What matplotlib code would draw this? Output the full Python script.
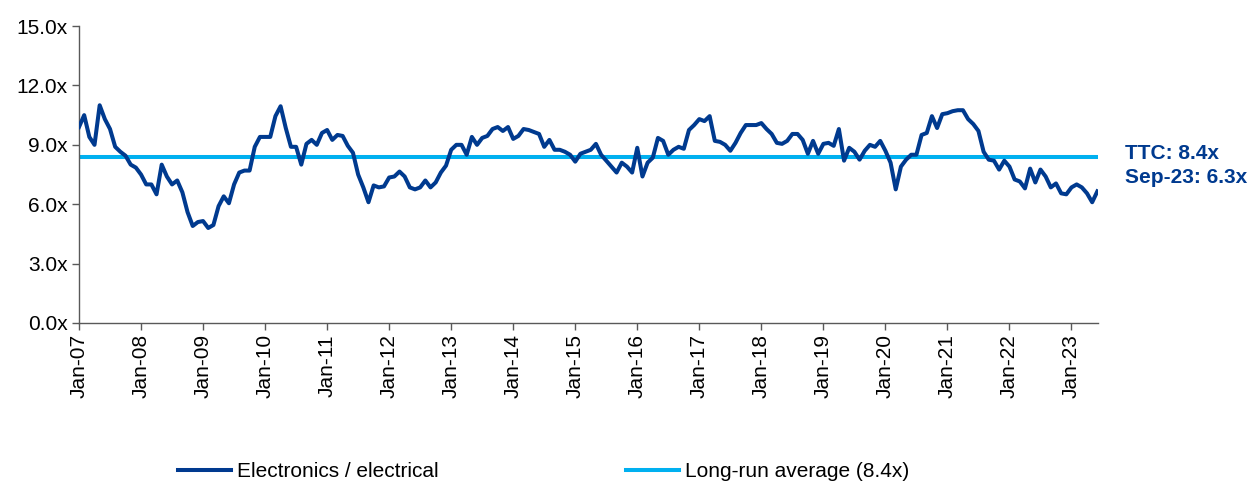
import matplotlib
matplotlib.use("Agg")
import matplotlib.pyplot as plt
import numpy as np
from matplotlib.ticker import FuncFormatter

plt.rcParams['font.family'] = ['Liberation Sans', 'DejaVu Sans']

# monthly EV/EBITDA-style multiple, Jan-07 .. Jun-23
electronics = [
    9.9, 10.5, 9.4, 9.0, 11.0, 10.3, 9.8, 8.9, 8.65, 8.45, 8.0, 7.85,
    7.5, 7.0, 7.0, 6.5, 8.0, 7.4, 7.0, 7.2, 6.6, 5.6, 4.9, 5.1,
    5.15, 4.8, 4.95, 5.9, 6.4, 6.05, 7.0, 7.6, 7.7, 7.7, 8.9, 9.4,
    9.4, 9.4, 10.45, 10.95, 9.85, 8.9, 8.9, 8.0, 9.05, 9.25, 9.0, 9.6,
    9.75, 9.25, 9.5, 9.45, 8.95, 8.6, 7.5, 6.85, 6.1, 6.95, 6.85, 6.9,
    7.35, 7.4, 7.65, 7.4, 6.85, 6.75, 6.85, 7.2, 6.85, 7.1, 7.6, 7.95,
    8.75, 9.0, 9.0, 8.5, 9.4, 9.0, 9.35, 9.45, 9.8, 9.9, 9.7, 9.9,
    9.3, 9.45, 9.8, 9.75, 9.65, 9.55, 8.9, 9.25, 8.75, 8.75, 8.65, 8.5,
    8.15, 8.55, 8.65, 8.75, 9.05, 8.5, 8.2, 7.9, 7.6, 8.1, 7.9, 7.6,
    8.85, 7.4, 8.1, 8.35, 9.35, 9.2, 8.5, 8.75, 8.9, 8.8, 9.75, 10.0,
    10.3, 10.2, 10.45, 9.2, 9.15, 9.0, 8.7, 9.1, 9.6, 10.0, 10.0, 10.0,
    10.1, 9.8, 9.55, 9.1, 9.05, 9.2, 9.55, 9.55, 9.25, 8.55, 9.2, 8.55,
    9.05, 9.1, 8.95, 9.8, 8.2, 8.85, 8.65, 8.25, 8.7, 9.0, 8.9, 9.2,
    8.7, 8.1, 6.75, 7.9, 8.25, 8.5, 8.5, 9.5, 9.6, 10.45, 9.85, 10.55,
    10.6, 10.7, 10.75, 10.75, 10.3, 10.05, 9.7, 8.65, 8.25, 8.2, 7.75, 8.2,
    7.9, 7.25, 7.15, 6.8, 7.8, 7.1, 7.75, 7.4, 6.85, 7.05, 6.55, 6.5,
    6.85, 7.0, 6.85, 6.55, 6.1, 6.65,
]
long_run_avg = 8.4
year_labels = ['Jan-07', 'Jan-08', 'Jan-09', 'Jan-10', 'Jan-11', 'Jan-12',
               'Jan-13', 'Jan-14', 'Jan-15', 'Jan-16', 'Jan-17', 'Jan-18',
               'Jan-19', 'Jan-20', 'Jan-21', 'Jan-22', 'Jan-23']
y_ticks = [0, 3, 6, 9, 12, 15]

DARK = '#003A8F'
LIGHT = '#00B0F0'
AXC = '#595959'
FS = 15

fig = plt.figure(figsize=(12.5, 4.83), dpi=100)
ax = fig.add_axes([0.0632, 0.3313, 0.8155, 0.6147])

x = np.arange(len(electronics))
ax.plot(x, electronics, color=DARK, lw=2.9, solid_joinstyle='round',
        label='Electronics / electrical', zorder=3)
ax.plot([0, len(electronics) - 0.8], [long_run_avg] * 2, color=LIGHT, lw=2.9,
        label='Long-run average (8.4x)', zorder=2)

ax.set_xlim(0, len(electronics) - 0.8)
ax.set_ylim(0, 15)
ax.set_yticks(y_ticks)
ax.yaxis.set_major_formatter(FuncFormatter(lambda v, _: f'{v:.1f}x'))
ax.set_xticks(np.arange(len(year_labels)) * 12)
ax.set_xticklabels(year_labels, rotation=90)

for s in ('top', 'right'):
    ax.spines[s].set_visible(False)
for s in ('left', 'bottom'):
    ax.spines[s].set_color(AXC)
    ax.spines[s].set_linewidth(1.0)
ax.tick_params(axis='both', colors=AXC, labelcolor='black', labelsize=FS,
               length=5, width=1.0, direction='out')
ax.tick_params(axis='y', pad=3)
ax.tick_params(axis='x', pad=3)

fig.text(0.9, 0.683, 'TTC: 8.4x', color=DARK, fontsize=FS,
         fontweight='bold', va='center', ha='left')
fig.text(0.9, 0.632, 'Sep-23: 6.3x', color=DARK, fontsize=FS,
         fontweight='bold', va='center', ha='left')

fig.legend(loc='center left', bbox_to_anchor=(178 / 1250, 0.024), ncol=2,
           frameon=False, fontsize=FS, handlelength=2.55, handletextpad=0.29,
           columnspacing=9.0, borderpad=0, borderaxespad=0)

fig.savefig('out.png', dpi=100)
